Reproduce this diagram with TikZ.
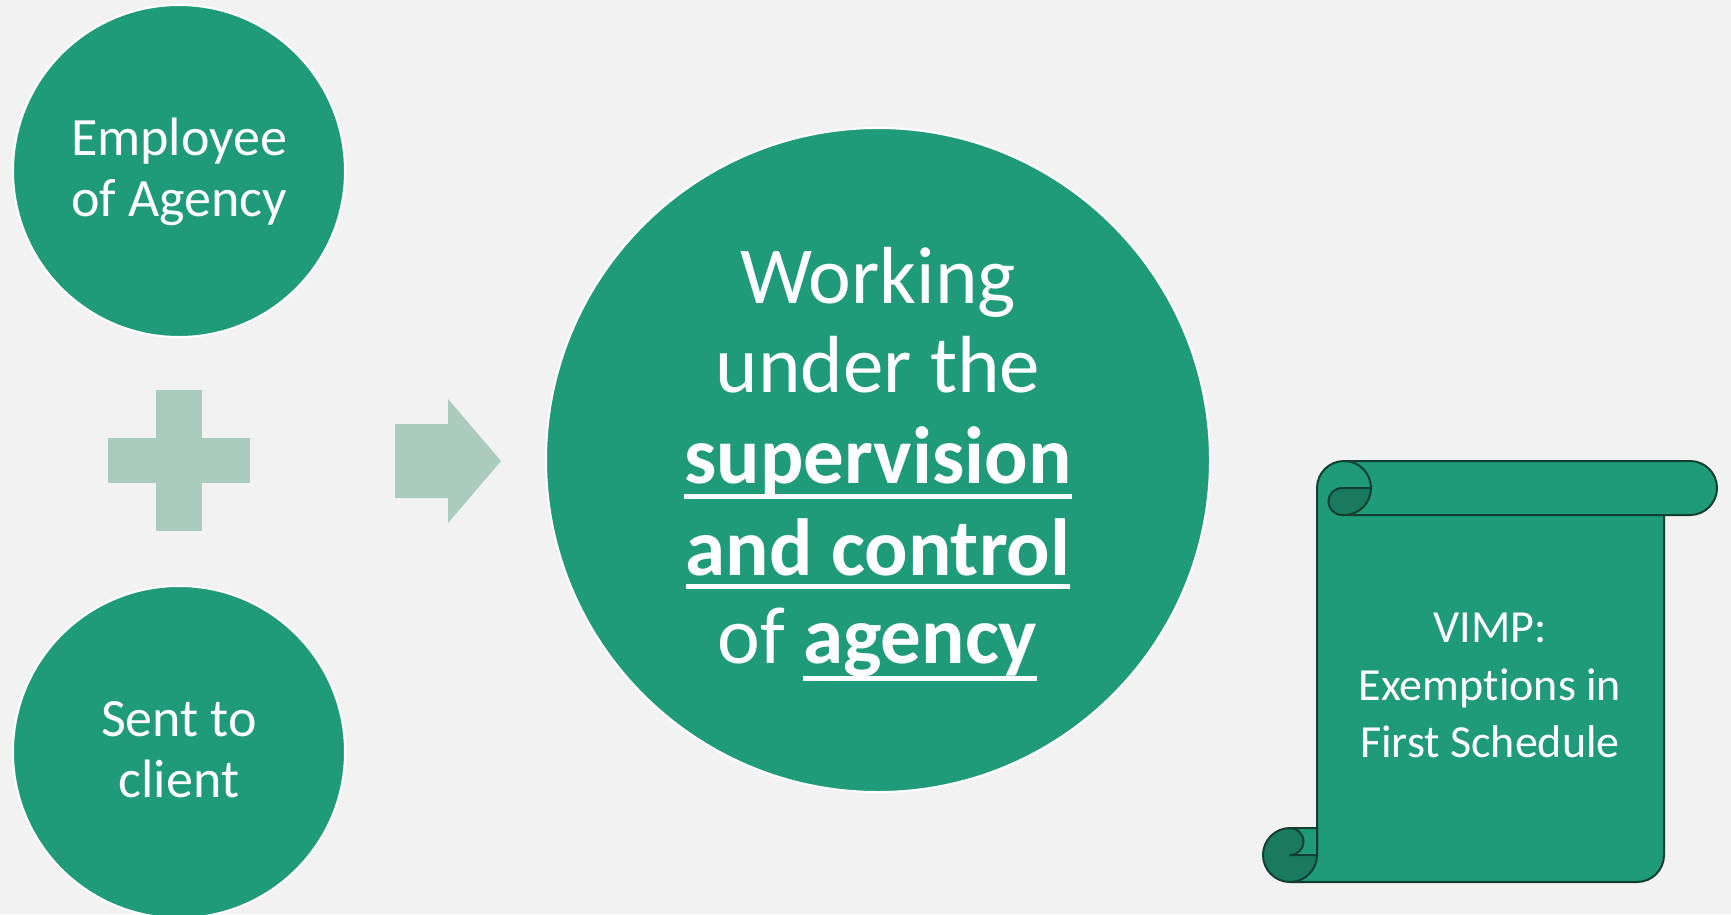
\documentclass[tikz,border=0pt]{standalone}
\usepackage{fontspec}
\setmainfont[Ligatures={NoCommon,NoContextual}]{Carlito}
\definecolor{bg}{HTML}{F2F2F2}
\definecolor{mygreen}{HTML}{1F9B7A}
\definecolor{lightg}{HTML}{ABCBBF}
\definecolor{darkc}{HTML}{1A7A5E}
\definecolor{edgec}{HTML}{123F31}
\begin{document}
\begin{tikzpicture}[x=1pt,y=-1pt,
  circ/.style={circle, fill=mygreen, draw=white, line width=2pt, inner sep=0pt},
  lbl/.style={text=white, inner sep=0pt, anchor=base},
  fsmall/.style={font=\fontsize{54}{57}\selectfont},
  fbig/.style={font=\fontsize{81}{90}\selectfont},
  fbigb/.style={font=\fontsize{81}{90}\selectfont\bfseries},
  fscroll/.style={font=\fontsize{46}{56}\selectfont},
  uline/.style={draw=white, line width=5pt},
  sl/.style={draw=edgec, line width=2pt, line join=round},
  shapefill/.style={fill=lightg}]
\useasboundingbox (0,0) rectangle (1731,914);
\fill[bg] (0,0) rectangle (1731,914);

% left circles
\node[circ, minimum size=332pt] (emp) at (179,171) {};
\node[circ, minimum size=332pt] (cli) at (179,752) {};
\node[lbl, fsmall] (e1) at (179,155) {Employee};
\node[lbl, fsmall] (e2) at (179,216) {of Agency};
\node[lbl, fsmall] (c1) at (179,736) {Sent to};
\node[lbl, fsmall] (c2) at (179,797) {client};

% plus
\fill[shapefill] (156,390) rectangle (202,531);
\fill[shapefill] (108,438) rectangle (250,483);

% arrow
\fill[shapefill] (395,424) -- (448,424) -- (448,399) -- (501,461) -- (448,523) -- (448,498) -- (395,498) -- cycle;

% main circle
\node[circ, minimum size=664pt] (main) at (878,460) {};
\node[lbl, fbig] (m1) at (878,303) {Working};
\node[lbl, fbig] (m2) at (878,392) {under the};
\node[lbl, fbigb] (m3) at (878,483) {supervision};
\node[lbl, fbigb] (m4) at (878,575) {and control};
\node[lbl, fbig, anchor=base west] (m5) at (717.5,663) {of};
\node[lbl, fbigb, anchor=base west] (m6) at (803,663) {agency};
\draw[uline] ([yshift=-13.5pt]m3.base west) -- ([yshift=-13.5pt]m3.base east);
\draw[uline] ([yshift=-11.5pt]m4.base west) -- ([yshift=-11.5pt]m4.base east);
\draw[uline] ([yshift=-15.5pt]m6.base west) -- ([yshift=-15.5pt]m6.base east);

% scroll
\fill[mygreen] (1317,855) -- (1317,488) arc[start angle=180,end angle=270,radius=27]
  -- (1690,461) arc[start angle=-90,end angle=90,radius=27]
  -- (1664,515) -- (1664,855) arc[start angle=0,end angle=90,radius=27]
  -- (1290,882) -- cycle;
\draw[sl] (1317,855) -- (1317,488) arc[start angle=180,end angle=270,radius=27]
  -- (1690,461) arc[start angle=-90,end angle=90,radius=27] -- (1344,515);
\draw[sl] (1664,515) -- (1664,855) arc[start angle=0,end angle=90,radius=27] -- (1290,882);
% top curl
\draw[sl] (1344,461) arc[start angle=-90,end angle=0,radius=27];
\filldraw[sl, fill=darkc] (1342,488) -- (1371,488) arc[start angle=0,end angle=90,radius=27]
  -- (1342,515) arc[start angle=90,end angle=270,radius=13.5] -- cycle;
% bottom curl
\filldraw[sl, fill=darkc] (1290,855) circle[radius=27];
\fill[mygreen] (1290,828) -- (1317,828) -- (1317,855) -- (1290,855)
  arc[start angle=90,end angle=-90,radius=13.5] -- cycle;
\draw[sl] (1290,828) -- (1317,828) -- (1317,855) -- (1290,855)
  arc[start angle=90,end angle=-90,radius=13.5];

\node[lbl, fscroll] (s1) at (1490,642) {VIMP:};
\node[lbl, fscroll] (s2) at (1490,700) {Exemp\kern0pt tions in};
\node[lbl, fscroll] (s3) at (1490,757) {First Schedule};
\end{tikzpicture}
\end{document}
